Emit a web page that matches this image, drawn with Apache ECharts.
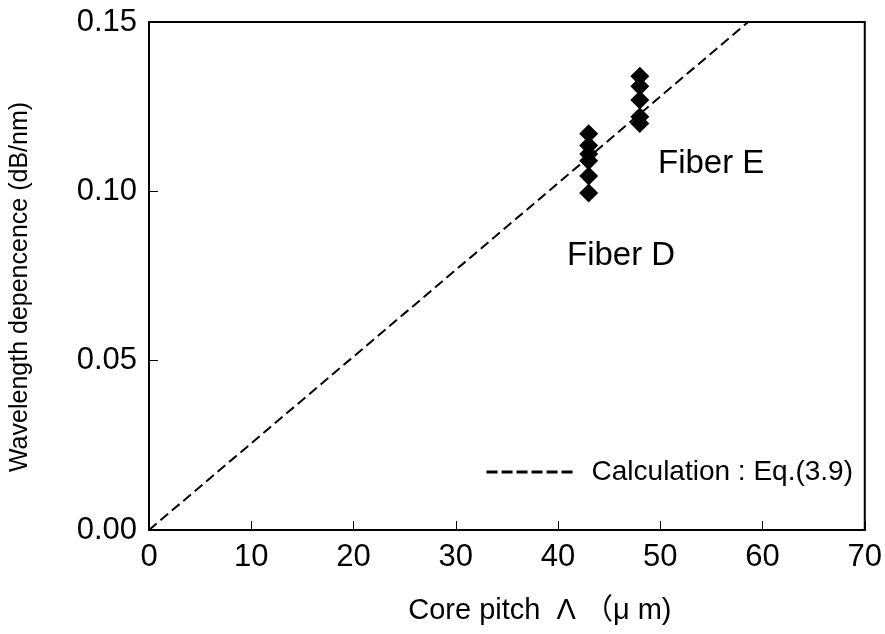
<!DOCTYPE html>
<html>
<head>
<meta charset="utf-8">
<script src="https://cdn.jsdelivr.net/npm/echarts@6/dist/echarts.min.js"></script>
<style>
  html, body { margin: 0; padding: 0; background: #fff; }
  #chart { width: 885px; height: 634px; }
</style>
</head>
<body>
<div id="chart"></div>
<script>
const fiberD_x = [43, 43, 43, 43, 43, 43];
const fiberD_y = [0.117, 0.1135, 0.111, 0.109, 0.1045, 0.0995];
const fiberE_x = [48, 48, 48, 48, 48];
const fiberE_y = [0.134, 0.131, 0.127, 0.122, 0.120];
// Eq.(3.9) line endpoints
const calc_x = [0, 58.6];
const calc_y = [0, 0.15];

const xTicks = [0, 10, 20, 30, 40, 50, 60, 70];
const yTicks = [0, 0.05, 0.10, 0.15];

const FONT = "'Liberation Sans', 'Noto Sans CJK JP', sans-serif";

const chart = echarts.init(document.getElementById('chart'), null, { renderer: 'canvas' });

const zip = (xs, ys) => xs.map((x, i) => [x, ys[i]]);

chart.setOption({
  animation: false,
  backgroundColor: '#fff',
  textStyle: { fontFamily: FONT, color: '#000' },
  grid: {
    left: 147, right: 18, top: 22, bottom: 104,
    show: true, borderColor: '#000', borderWidth: 2, backgroundColor: 'transparent'
  },
  legend: {
    data: [{ name: 'Calculation : Eq.(3.9)', itemStyle: { opacity: 0 } }],
    right: 27, top: 453,
    itemWidth: 88, itemHeight: 14, itemGap: 16,
    lineStyle: { width: 3, type: [11, 4] },
    textStyle: { fontSize: 28, color: '#000', fontFamily: FONT, padding: [0, 0, 0, 12] }
  },
  xAxis: {
    type: 'value', min: xTicks[0], max: xTicks[xTicks.length - 1], interval: 10,
    name: 'Core pitch  Λ （μ m)', nameLocation: 'middle', nameGap: 66,
    nameTextStyle: { fontSize: 29, color: '#000', fontFamily: FONT, padding: [0, 0, 0, 66] },
    axisLine: { show: true, lineStyle: { color: '#000', width: 2 } },
    axisTick: { show: true, inside: true, length: 9, lineStyle: { color: '#000', width: 1 } },
    axisLabel: { fontSize: 31, color: '#000', margin: 12, fontFamily: FONT },
    splitLine: { show: false }
  },
  yAxis: {
    type: 'value', min: yTicks[0], max: yTicks[yTicks.length - 1], interval: 0.05,
    name: 'Wavelength depencence (dB/nm)', nameLocation: 'middle', nameGap: 116, nameRotate: 90,
    nameTextStyle: { fontSize: 25, color: '#000', fontFamily: FONT, padding: [0, 22, 0, 0] },
    axisLine: { show: true, lineStyle: { color: '#000', width: 2 } },
    axisTick: { show: true, inside: true, length: 9, lineStyle: { color: '#000', width: 1 } },
    axisLabel: { fontSize: 31, color: '#000', margin: 12, fontFamily: FONT,
      formatter: v => v.toFixed(2) },
    splitLine: { show: false }
  },
  series: [
    {
      name: 'Calculation : Eq.(3.9)', type: 'line',
      data: zip(calc_x, calc_y),
      showSymbol: false, symbol: 'none',
      lineStyle: { color: '#000', width: 2, type: [10, 5] },
      itemStyle: { color: '#000' }
    },
    {
      name: 'Fiber D', type: 'scatter', data: zip(fiberD_x, fiberD_y),
      symbol: 'diamond', symbolSize: 19, itemStyle: { color: '#000', opacity: 1 }, z: 3
    },
    {
      name: 'Fiber E', type: 'scatter', data: zip(fiberE_x, fiberE_y),
      symbol: 'diamond', symbolSize: 19, itemStyle: { color: '#000', opacity: 1 }, z: 3
    }
  ],
  graphic: [
    { type: 'text', left: 567, top: 239,
      style: { text: 'Fiber D', fontSize: 33, fill: '#000', fontFamily: FONT } },
    { type: 'text', left: 658, top: 147,
      style: { text: 'Fiber E', fontSize: 33, fill: '#000', fontFamily: FONT } }
  ]
});
</script>
</body>
</html>
